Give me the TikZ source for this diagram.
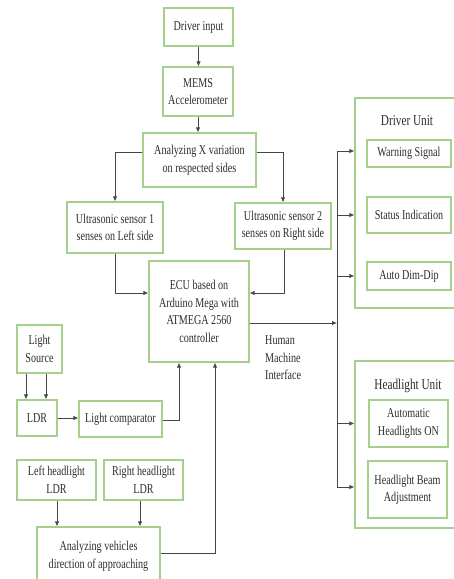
\documentclass[tikz,border=0pt]{standalone}
\usepackage{fontspec}
\setmainfont{Liberation Serif}[FakeStretch=0.75]
\usetikzlibrary{arrows.meta}
\definecolor{boxgreen}{RGB}{165,208,140}
\definecolor{linegray}{RGB}{70,70,70}
\definecolor{txtgray}{RGB}{45,45,45}
\tikzset{
  blk/.style={draw=boxgreen, line width=1.2pt, text=txtgray, align=center, inner sep=0pt,
    font=\fontsize{13.5}{17.5}\selectfont},
  ttl/.style={text=txtgray, inner sep=0pt, font=\fontsize{15}{18}\selectfont},
  conn/.style={draw=linegray, line width=0.8pt},
  arr/.style={conn, -{Latex[length=5pt,width=4.5pt]}}
}
\newcommand{\mybox}[6]{\node[blk, minimum width={(#4-#2)*1pt}, minimum height={(#5-#3)*1pt}] (#1) at ({(#2+#4)/2},{(#3+#5)/2}) {#6};}
\begin{document}
\begin{tikzpicture}[x=1pt,y=-1pt]
\clip (0,0) rectangle (454,579);
\fill[white] (0,0) rectangle (454,579);
% boxes
\mybox{driver}{164}{8}{233}{46}{Driver input}
\mybox{mems}{163}{67}{233}{116}{MEMS\\Accelerometer}
\mybox{anx}{143}{133}{256}{187}{Analyzing X variation\\on respected sides}
\mybox{us1}{67}{202}{163}{253}{Ultrasonic sensor 1\\senses on Left side}
\mybox{us2}{235}{203}{331}{249}{Ultrasonic sensor 2\\senses on Right side}
\mybox{ecu}{149}{261}{249}{362}{ECU based on\\Arduino Mega with\\ATMEGA 2560\\controller}
\mybox{ls}{17}{325}{62}{373}{Light\\Source}
\mybox{ldr}{17}{400}{57}{436}{LDR}
\mybox{lc}{79}{401}{162}{437}{Light comparator}
\mybox{lhl}{17}{460}{96}{500}{Left headlight\\LDR}
\mybox{rhl}{104}{460}{183}{500}{Right headlight\\LDR}
\mybox{avd}{37}{527}{160}{586}{Analyzing vehicles\\direction of approaching}
\mybox{du}{355}{98}{462}{308}{}
\mybox{ws}{367}{140}{451}{167}{Warning Signal}
\mybox{si}{367}{197}{451}{233}{Status Indication}
\mybox{add}{367}{262}{451}{290}{Auto Dim-Dip}
\mybox{hu}{355}{361}{462}{528}{}
\mybox{ahon}{369}{400}{448}{447}{Automatic\\Headlights ON}
\mybox{hba}{368}{461}{447}{518}{Headlight Beam\\Adjustment}
\node[ttl] (dut) at (407,121) {Driver Unit};
\node[ttl] (hut) at (408,386) {Headlight Unit};
\node[anchor=west, align=left, text=txtgray, inner sep=0pt, font=\fontsize{13.5}{17.5}\selectfont] (hmit) at (265,358) {Human\\Machine\\Interface};
% helper coordinates
\coordinate (b1) at (115,152);
\coordinate (b2) at (283,152);
\coordinate (c1) at (115,293);
\coordinate (c2) at (284,293);
\coordinate (hmi) at (337,323);
\coordinate (bt) at (337,151);
\coordinate (bb) at (337,487);
\coordinate (l1) at (26,380);
\coordinate (l2) at (46,380);
\coordinate (k1) at (179,420);
\coordinate (k2) at (215,553);
\coordinate (m1) at (57,510);
\coordinate (m2) at (140,510);
% connectors
\draw[arr] (driver.south) -- (driver.south |- mems.north);
\draw[arr] (mems.south) -- (mems.south |- anx.north);
\draw[arr] (anx.west |- b1) -- (b1) -- (us1.north -| b1);
\draw[arr] (anx.east |- b2) -- (b2) -- (us2.north -| b2);
\draw[arr] (us1.south -| c1) -- (c1) -- (ecu.west |- c1);
\draw[arr] (us2.south -| c2) -- (c2) -- (ecu.east |- c2);
\draw[arr] (ecu.east |- hmi) -- (hmi);
\draw[conn] (bt) -- (bb);
\draw[arr] (bt) -- (du.west |- bt);
\draw[arr] (si -| bt) -- (si -| du.west);
\draw[arr] (add -| bt) -- (add -| du.west);
\draw[arr] (ahon -| bt) -- (ahon -| hu.west);
\draw[arr] (bb) -- (hu.west |- bb);
\draw[arr] (ls.south -| l1) -- (ldr.north -| l1);
\draw[arr] (ls.south -| l2) -- (ldr.north -| l2);
\draw[arr] (ldr.east) -- (lc.west |- ldr.east);
\draw[arr] (lc.east |- k1) -- (k1) -- (ecu.south -| k1);
\draw[arr] (avd.east |- k2) -- (k2) -- (ecu.south -| k2);
\draw[arr] (lhl.south -| m1) -- (avd.north -| m1);
\draw[arr] (rhl.south -| m2) -- (avd.north -| m2);
\end{tikzpicture}
\end{document}
